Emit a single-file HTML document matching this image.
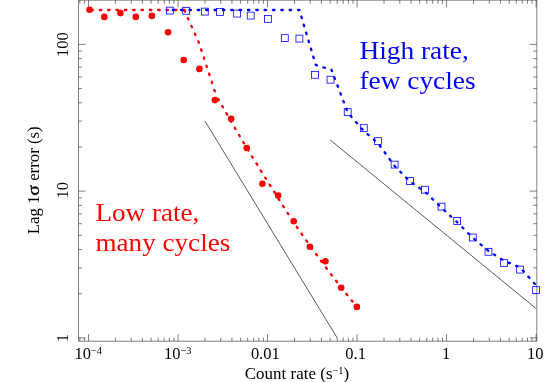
<!DOCTYPE html>
<html><head><meta charset="utf-8"><title>Lag error vs count rate</title>
<style>html,body{margin:0;padding:0;background:#fff;}body{width:555px;height:382px;overflow:hidden;font-family:"Liberation Serif",serif;}svg{display:block;will-change:transform;}</style>
</head><body>
<svg width="555" height="382" viewBox="0 0 555 382">
<rect x="0" y="0" width="555" height="382" fill="#fff"/>
<g stroke="#000" stroke-width="0.5" fill="none">
<path d="M78.5 0.2H536.8V341.2H78.5Z"/>
<path d="M79.82 341.2v-3.6M79.82 0.2v3.6M84.40 341.2v-3.6M84.40 0.2v3.6M88.50 341.2v-7.1M88.50 0.2v7.1M115.45 341.2v-3.6M115.45 0.2v3.6M131.21 341.2v-3.6M131.21 0.2v3.6M142.40 341.2v-3.6M142.40 0.2v3.6M151.08 341.2v-3.6M151.08 0.2v3.6M158.16 341.2v-3.6M158.16 0.2v3.6M164.16 341.2v-3.6M164.16 0.2v3.6M169.35 341.2v-3.6M169.35 0.2v3.6M173.93 341.2v-3.6M173.93 0.2v3.6M178.03 341.2v-7.1M178.03 0.2v7.1M204.97 341.2v-3.6M204.97 0.2v3.6M220.74 341.2v-3.6M220.74 0.2v3.6M231.92 341.2v-3.6M231.92 0.2v3.6M240.60 341.2v-3.6M240.60 0.2v3.6M247.69 341.2v-3.6M247.69 0.2v3.6M253.68 341.2v-3.6M253.68 0.2v3.6M258.87 341.2v-3.6M258.87 0.2v3.6M263.45 341.2v-3.6M263.45 0.2v3.6M267.55 341.2v-7.1M267.55 0.2v7.1M294.50 341.2v-3.6M294.50 0.2v3.6M310.26 341.2v-3.6M310.26 0.2v3.6M321.45 341.2v-3.6M321.45 0.2v3.6M330.13 341.2v-3.6M330.13 0.2v3.6M337.21 341.2v-3.6M337.21 0.2v3.6M343.21 341.2v-3.6M343.21 0.2v3.6M348.40 341.2v-3.6M348.40 0.2v3.6M352.98 341.2v-3.6M352.98 0.2v3.6M357.08 341.2v-7.1M357.08 0.2v7.1M384.02 341.2v-3.6M384.02 0.2v3.6M399.79 341.2v-3.6M399.79 0.2v3.6M410.97 341.2v-3.6M410.97 0.2v3.6M419.65 341.2v-3.6M419.65 0.2v3.6M426.74 341.2v-3.6M426.74 0.2v3.6M432.73 341.2v-3.6M432.73 0.2v3.6M437.92 341.2v-3.6M437.92 0.2v3.6M442.50 341.2v-3.6M442.50 0.2v3.6M446.60 341.2v-7.1M446.60 0.2v7.1M473.55 341.2v-3.6M473.55 0.2v3.6M489.31 341.2v-3.6M489.31 0.2v3.6M500.50 341.2v-3.6M500.50 0.2v3.6M509.18 341.2v-3.6M509.18 0.2v3.6M516.26 341.2v-3.6M516.26 0.2v3.6M522.26 341.2v-3.6M522.26 0.2v3.6M527.45 341.2v-3.6M527.45 0.2v3.6M532.03 341.2v-3.6M532.03 0.2v3.6M536.12 341.2v-7.1M536.12 0.2v7.1M78.5 337.90h7.1M536.8 337.90h-7.1M78.5 293.72h3.6M536.8 293.72h-3.6M78.5 267.88h3.6M536.8 267.88h-3.6M78.5 249.55h3.6M536.8 249.55h-3.6M78.5 235.33h3.6M536.8 235.33h-3.6M78.5 223.71h3.6M536.8 223.71h-3.6M78.5 213.88h3.6M536.8 213.88h-3.6M78.5 205.37h3.6M536.8 205.37h-3.6M78.5 197.86h3.6M536.8 197.86h-3.6M78.5 191.15h7.1M536.8 191.15h-7.1M78.5 146.97h3.6M536.8 146.97h-3.6M78.5 121.13h3.6M536.8 121.13h-3.6M78.5 102.80h3.6M536.8 102.80h-3.6M78.5 88.58h3.6M536.8 88.58h-3.6M78.5 76.96h3.6M536.8 76.96h-3.6M78.5 67.13h3.6M536.8 67.13h-3.6M78.5 58.62h3.6M536.8 58.62h-3.6M78.5 51.11h3.6M536.8 51.11h-3.6M78.5 44.40h7.1M536.8 44.40h-7.1"/>
<path d="M205.0 121.1L337.2 337.9" stroke-width="0.65"/>
<path d="M330.1 139.9L536.2 308.6" stroke-width="0.65"/>
</g>
<path d="M89.5 10.0L184.3 10.0" fill="none" stroke="#ff0000" stroke-width="2.3" stroke-linecap="round" stroke-linejoin="round" stroke-dasharray="1.5 6.85" stroke-dashoffset="6.45"/>
<path d="M184.3 10.0L199.2 43.5L216.0 95.0" fill="none" stroke="#ff0000" stroke-width="2.3" stroke-linecap="round" stroke-linejoin="round" stroke-dasharray="1.5 7.01" stroke-dashoffset="8.18"/>
<path d="M356.9 306.9L341.2 287.5L325.5 267L309.9 245.5L293.7 222.6L278.1 198L262.3 173L246.5 147.5L230.7 121L216.0 95.0" fill="none" stroke="#ff0000" stroke-width="2.3" stroke-linecap="round" stroke-linejoin="round" stroke-dasharray="1.5 6.85" stroke-dashoffset="1.5"/>
<path d="M169.8 10.0L299.4 10.0L315.8 65L331.5 69.8L347.7 112.5L363.8 131L377.9 143L394.6 166L410 181.5L425 191.7L441.5 207.8L457.2 222.2L472.8 237.8L488.5 251L504.1 260.8L520.1 267.5L536.3 285.5" fill="none" stroke="#0000ff" stroke-width="2.3" stroke-linecap="round" stroke-linejoin="round" stroke-dasharray="1.5 6.85" stroke-dashoffset="5.4"/>
<g fill="#ff0000">
<circle cx="89.5" cy="9.7" r="3.3"/>
<circle cx="104.3" cy="16.9" r="3.3"/>
<circle cx="120.4" cy="13.1" r="3.3"/>
<circle cx="135.8" cy="16.9" r="3.3"/>
<circle cx="151.9" cy="15.9" r="3.3"/>
<circle cx="168.1" cy="32.3" r="3.3"/>
<circle cx="183.7" cy="60.0" r="3.3"/>
<circle cx="199.4" cy="68.9" r="3.3"/>
<circle cx="214.9" cy="100.1" r="3.3"/>
<circle cx="231.1" cy="118.8" r="3.3"/>
<circle cx="246.7" cy="148.0" r="3.3"/>
<circle cx="262.4" cy="183.7" r="3.3"/>
<circle cx="278.1" cy="195.5" r="3.3"/>
<circle cx="293.7" cy="221.2" r="3.3"/>
<circle cx="309.9" cy="246.8" r="3.3"/>
<circle cx="325.4" cy="261.2" r="3.3"/>
<circle cx="341.2" cy="287.7" r="3.3"/>
<circle cx="356.9" cy="306.9" r="3.3"/>
</g>
<g fill="none" stroke="#0000ff" stroke-width="0.8">
<rect x="166.35" y="7.15" width="6.9" height="6.9"/>
<rect x="182.75" y="7.35" width="6.9" height="6.9"/>
<rect x="201.35" y="8.15" width="6.9" height="6.9"/>
<rect x="216.55" y="8.45" width="6.9" height="6.9"/>
<rect x="233.65" y="10.15" width="6.9" height="6.9"/>
<rect x="247.25" y="12.15" width="6.9" height="6.9"/>
<rect x="264.45" y="15.45" width="6.9" height="6.9"/>
<rect x="281.35" y="34.65" width="6.9" height="6.9"/>
<rect x="295.95" y="35.15" width="6.9" height="6.9"/>
<rect x="311.55" y="71.35" width="6.9" height="6.9"/>
<rect x="327.05" y="76.25" width="6.9" height="6.9"/>
<rect x="344.25" y="108.65" width="6.9" height="6.9"/>
<rect x="360.35" y="124.65" width="6.9" height="6.9"/>
<rect x="374.45" y="137.65" width="6.9" height="6.9"/>
<rect x="391.15" y="161.15" width="6.9" height="6.9"/>
<rect x="406.55" y="177.55" width="6.9" height="6.9"/>
<rect x="421.55" y="186.25" width="6.9" height="6.9"/>
<rect x="438.05" y="203.15" width="6.9" height="6.9"/>
<rect x="453.75" y="217.55" width="6.9" height="6.9"/>
<rect x="469.35" y="234.05" width="6.9" height="6.9"/>
<rect x="485.05" y="248.35" width="6.9" height="6.9"/>
<rect x="500.65" y="259.65" width="6.9" height="6.9"/>
<rect x="516.65" y="266.15" width="6.9" height="6.9"/>
<rect x="532.65" y="286.65" width="6.9" height="6.9"/>
</g>
<g font-family="Liberation Serif, serif" font-size="16" fill="#000" text-anchor="middle">
<text transform="translate(88.2 359.2) scale(1.03 1)" font-size="16">10<tspan dy="-4.9" font-size="10.1">−4</tspan></text>
<text transform="translate(177.8 359.2) scale(1.03 1)" font-size="16">10<tspan dy="-4.9" font-size="10.1">−3</tspan></text>
<text transform="translate(265.3 359.2) scale(1.03 1)" font-size="16">0.01</text>
<text transform="translate(355.6 359.2) scale(1.03 1)" font-size="16">0.1</text>
<text transform="translate(446.1 359.2) scale(1.03 1)" font-size="16">1</text>
<text transform="translate(535.3 359.2) scale(1.03 1)" font-size="16">10</text>
<text transform="translate(297.0 378.8) scale(1.03 1)" font-size="16.5">Count rate (s<tspan dy="-4.9" font-size="10.1">−1</tspan><tspan dy="4.9" font-size="16.5">)</tspan></text>
<text transform="translate(67.6 44.6) rotate(-90) scale(1.03 1)" font-size="16">100</text>
<text transform="translate(67.6 190.3) rotate(-90) scale(1.03 1)" font-size="16">10</text>
<text transform="translate(67.6 338.2) rotate(-90) scale(1.03 1)" font-size="16">1</text>
<g transform="translate(38.7 234.3) rotate(-90)" text-anchor="start" font-size="16.3"><text transform="scale(1.03 1)">Lag 1</text><text transform="translate(38.5 0) scale(1.24 1)" font-size="16" stroke="#000" stroke-width="0.35">σ</text><text transform="translate(53.44 0) scale(1.03 1)">error (s)</text></g>
</g>
<g font-family="Liberation Serif, serif" font-size="26.2">
<text transform="translate(359.4 58.5) scale(1.045 1)" fill="#0000ff">High rate,</text>
<text transform="translate(359.4 88.6) scale(1.045 1)" fill="#0000ff">few cycles</text>
<text transform="translate(95.5 221.1) scale(1.035 1)" fill="#ff0000">Low rate,</text>
<text transform="translate(95.5 251.1) scale(1.035 1)" fill="#ff0000">many cycles</text>
</g>
</svg>
</body></html>
